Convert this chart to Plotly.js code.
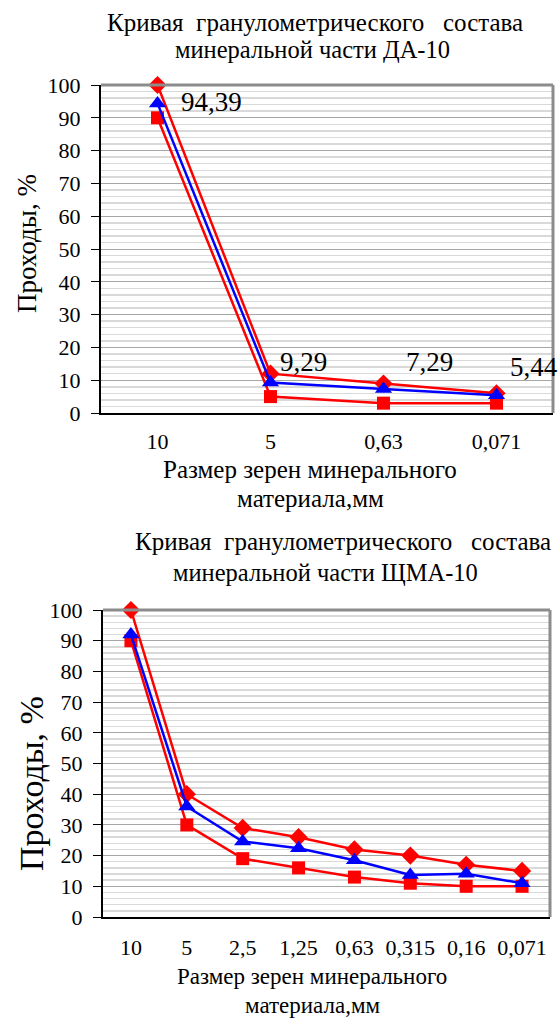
<!DOCTYPE html>
<html>
<head>
<meta charset="utf-8">
<script src="https://cdn.plot.ly/plotly-3.0.1.min.js"></script>
<style>html,body{margin:0;padding:0;background:#fff;}#chart{width:559px;height:1021px;}</style>
</head>
<body>
<div id="chart"></div>
<script>
// Chart 1: ДА-10
const catsDA = ["10", "5", "0,63", "0,071"];
const daUpper = [100, 12, 9, 6];
const daMid = [94.39, 9.29, 7.29, 5.44];
const daLower = [90, 5, 3, 3];
const daMidLabels = ["94,39", "9,29", "7,29", "5,44"];

// Chart 2: ЩМА-10
const catsSMA = ["10", "5", "2,5", "1,25", "0,63", "0,315", "0,16", "0,071"];
const smaUpper = [100, 40, 29, 26, 22, 20, 17, 15];
const smaMid = [92, 36, 24.6, 22.4, 18.5, 13.7, 14.1, 11];
const smaLower = [90, 30, 19, 16, 13, 11, 10, 10];

const title1 = ["Кривая\u00a0 гранулометрического\u00a0\u00a0 состава", "минеральной части ДА-10"];
const title2 = ["Кривая\u00a0 гранулометрического\u00a0\u00a0 состава", "минеральной части ЩМА-10"];
const xTitle = ["Размер зерен минерального", "материала,мм"];
const yTitle = "Проходы, %";

const W = 559, H = 1021;
const px = v => v / W;
const py = v => 1 - v / H;
const FONT = "Times New Roman, Liberation Serif, DejaVu Serif, serif";
const RED = "#ff0000", BLUE = "#0000ff";

function series(x, y, xa, ya, color, symbol, size) {
  return {
    x: x, y: y, xaxis: xa, yaxis: ya, type: "scatter", mode: "lines+markers",
    line: {color: color, width: 2.5},
    marker: {color: color, symbol: symbol, size: size},
    cliponaxis: false, showlegend: false, hoverinfo: "skip"
  };
}

const traces = [
  series(catsDA, daUpper, "x", "y", RED, "diamond", 14),
  series(catsDA, daLower, "x", "y", RED, "square", 13),
  series(catsDA, daMid, "x", "y", BLUE, "triangle-up", 15),
  series(catsSMA, smaUpper, "x2", "y2", RED, "diamond", 14),
  series(catsSMA, smaLower, "x2", "y2", RED, "square", 13),
  series(catsSMA, smaMid, "x2", "y2", BLUE, "triangle-up", 15)
];

function yax(domain, anchor, standoff) {
  return {
    domain: domain, anchor: anchor, range: [0, 100], dtick: 10, tick0: 0,
    showgrid: true, gridcolor: "#a6a6a6", gridwidth: 1,
    minor: {dtick: 2, showgrid: true, gridcolor: "#d9d9d9", gridwidth: 1.5},
    zeroline: false, showline: true, linecolor: "#000", linewidth: 2,
    ticks: "outside", ticklen: 8, tickwidth: 1, tickcolor: "#000",
    ticklabelstandoff: standoff,
    tickfont: {family: FONT, size: 22, color: "#000"}, fixedrange: true
  };
}
function xax(domain, anchor, n, fs, standoff) {
  return {
    domain: domain, anchor: anchor, type: "category", range: [-0.5, n - 0.5],
    showgrid: false, zeroline: false, showline: true, linecolor: "#000", linewidth: 2,
    ticks: "", ticklabelstandoff: standoff,
    tickfont: {family: FONT, size: fs, color: "#000"}, fixedrange: true
  };
}

const d1x = [px(101), px(553)], d1y = [py(413), py(85)];
const d2x = [px(103), px(550)], d2y = [py(917), py(610)];

function txt(x, y, text, size, extra) {
  return Object.assign({
    xref: "paper", yref: "paper", x: px(x), y: py(y), text: text, showarrow: false,
    xanchor: "center", yanchor: "middle", font: {family: FONT, size: size, color: "#000"}
  }, extra || {});
}

const labelShifts = [[54, 1], [33, 21], [46, 27], [37, 28]];
const dataLabels = daMid.map((v, i) => ({
  xref: "x", yref: "y", x: i, y: v, text: daMidLabels[i], showarrow: false,
  xanchor: "center", yanchor: "middle", xshift: labelShifts[i][0], yshift: labelShifts[i][1],
  font: {family: FONT, size: 27, color: "#000"}
}));

const annotations = [
  txt(315, 22, title1[0], 25),
  txt(312, 50, title1[1], 24.5),
  txt(343, 541, title2[0], 25),
  txt(325, 572, title2[1], 24.5),
  txt(310, 469, xTitle[0], 25),
  txt(310, 498, xTitle[1], 25),
  txt(312, 976, xTitle[0], 23),
  txt(312, 1005, xTitle[1], 23),
  txt(27, 244, yTitle, 27, {textangle: -90}),
  txt(31, 784, yTitle, 34, {textangle: -90})
].concat(dataLabels);

const border = (xr, yr) => [
  {type: "line", xref: xr + " domain", yref: yr + " domain", x0: 0, x1: 1, y0: 1, y1: 1,
   line: {color: "#8c8c8c", width: 3}, layer: "above"},
  {type: "line", xref: xr + " domain", yref: yr + " domain", x0: 1, x1: 1, y0: 0, y1: 1,
   line: {color: "#8c8c8c", width: 3}, layer: "above"}
];

const layout = {
  width: W, height: H, margin: {l: 0, r: 0, t: 0, b: 0},
  paper_bgcolor: "#fff", plot_bgcolor: "#fff", showlegend: false,
  font: {family: FONT, color: "#000"},
  xaxis: xax(d1x, "y", catsDA.length, 22, 8),
  yaxis: yax(d1y, "x", 6),
  xaxis2: xax(d2x, "y2", catsSMA.length, 22, 10),
  yaxis2: yax(d2y, "x2", 6),
  annotations: annotations,
  shapes: border("x", "y").concat(border("x2", "y2"))
};

Plotly.newPlot("chart", traces, layout, {staticPlot: true, displayModeBar: false});
</script>
</body>
</html>
